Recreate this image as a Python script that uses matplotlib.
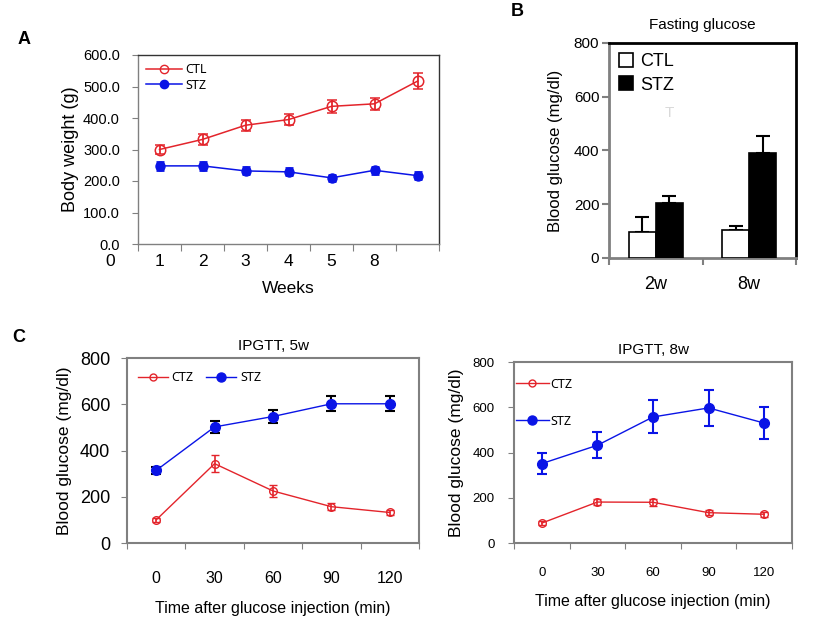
import matplotlib
matplotlib.use("Agg")
import matplotlib.pyplot as plt
from matplotlib.lines import Line2D
import numpy as np

plt.rcParams['font.family'] = ['Liberation Sans', 'DejaVu Sans']

RED = '#E3242B'
BLUE = '#0A14E6'
GRAY = '#808080'

# ---------------- Data ----------------
# Panel A: body weight
weeks_labels = ['1', '2', '3', '4', '5', '8', '']
bw_ctl = [300, 332, 377, 395, 437, 445, 517]
bw_ctl_err = [15, 17, 18, 18, 20, 20, 25]
bw_stz = [248, 248, 232, 229, 210, 234, 217]
bw_stz_err = [12, 12, 11, 11, 10, 11, 10]

# Panel B: fasting glucose
fg_groups = ['2w', '8w']
fg_ctl = [95, 106]
fg_ctl_err = [56, 14]
fg_stz = [206, 389]
fg_stz_err = [24, 65]

# Panel C: IPGTT
time_labels = ['0', '30', '60', '90', '120']
g5_ctz = [100, 343, 225, 157, 132]
g5_ctz_err = [10, 38, 25, 15, 12]
g5_stz = [314, 502, 547, 602, 602]
g5_stz_err = [15, 27, 28, 32, 32]

g8_ctz = [88, 181, 180, 134, 127]
g8_ctz_err = [8, 15, 15, 12, 12]
g8_stz = [351, 432, 557, 597, 530]
g8_stz_err = [47, 57, 73, 79, 69]

W, H = 819, 642
fig = plt.figure(figsize=(W / 100, H / 100), dpi=100)

def rect(l, r, t, b):
    return [l / W, 1 - b / H, (r - l) / W, (b - t) / H]

LEGFONT = {'family': ['Noto Sans', 'DejaVu Sans'], 'size': 9}

# ---------------- Panel A ----------------
axA = fig.add_axes(rect(138, 439, 55, 244))
n = len(bw_ctl)
xa = np.arange(n) + 0.5
axA.errorbar(xa, bw_ctl, yerr=bw_ctl_err, color=RED, lw=1.1, marker='o', ms=7.5,
             mfc='none', mec=RED, mew=1.1, capsize=3.5, elinewidth=1.3, capthick=1.3)
axA.errorbar(xa, bw_stz, yerr=bw_stz_err, color=BLUE, lw=1.1, marker='o', ms=6.5,
             mfc=BLUE, mec=BLUE, capsize=3, elinewidth=2, capthick=2)
axA.set_xlim(0, n)
axA.set_ylim(0, 600)
axA.set_yticks(np.arange(0, 601, 100))
axA.set_yticklabels([f'{v:.1f}' for v in np.arange(0, 601, 100)], fontsize=10.5)
axA.set_xticks(np.arange(0, n + 1))
axA.set_xticklabels([''] * (n + 1))
axA.set_xticks(xa, minor=True)
axA.set_xticklabels(weeks_labels, minor=True, fontsize=12.5)
axA.tick_params(axis='x', which='minor', length=0, pad=7)
axA.tick_params(axis='x', which='major', length=5, color=GRAY, direction='out')
axA.tick_params(axis='y', length=4, color=GRAY, direction='out', pad=9)
axA.text(-0.65, -0.095, '0', transform=axA.get_xaxis_transform(), ha='center', va='center',
         fontsize=12.5, clip_on=False)
for s in axA.spines.values():
    s.set_color('#333333')
    s.set_linewidth(1.0)
axA.spines['left'].set_color(GRAY)
axA.spines['bottom'].set_color(GRAY)
axA.set_ylabel('Body weight (g)', fontsize=13, labelpad=3)
axA.set_xlabel('Weeks', fontsize=12.5, labelpad=9)
hA = [Line2D([], [], color=RED, lw=1.1, marker='o', ms=6, mfc='none', mec=RED),
      Line2D([], [], color=BLUE, lw=1.1, marker='o', ms=6, mfc=BLUE, mec=BLUE)]
axA.legend(hA, ['CTL', 'STZ'], loc='upper left', frameon=False, handlelength=2.9,
           borderaxespad=0.25, labelspacing=0.2, handletextpad=0.25, prop=LEGFONT)

# ---------------- Panel B ----------------
axB = fig.add_axes(rect(609, 796, 43, 258))
xb = np.arange(len(fg_groups)) + 0.5
bw = 0.29
axB.bar(xb - bw / 2, fg_ctl, bw, color='white', edgecolor='black', lw=1.2, label='CTL', zorder=3)
axB.bar(xb + bw / 2, fg_stz, bw, color='black', edgecolor='black', lw=1.2, label='STZ', zorder=3)
axB.errorbar(xb - bw / 2, fg_ctl, yerr=[np.zeros(len(fg_ctl)), fg_ctl_err], fmt='none',
             ecolor='black', elinewidth=1.5, capsize=5, capthick=1.5, zorder=2)
axB.errorbar(xb + bw / 2, fg_stz, yerr=[np.zeros(len(fg_stz)), fg_stz_err], fmt='none',
             ecolor='black', elinewidth=1.5, capsize=5, capthick=1.5, zorder=2)
axB.set_xlim(0, len(fg_groups))
axB.set_ylim(0, 800)
axB.set_yticks(np.arange(0, 801, 200))
axB.tick_params(axis='y', labelsize=11, length=5, width=1.5, color=GRAY, pad=2)
axB.set_xticks(np.arange(0, len(fg_groups) + 1))
axB.set_xticklabels([''] * (len(fg_groups) + 1))
axB.set_xticks(xb, minor=True)
axB.set_xticklabels(fg_groups, minor=True, fontsize=13)
axB.tick_params(axis='x', which='minor', length=0, pad=13)
axB.tick_params(axis='x', which='major', length=5, width=1.5, color=GRAY)
axB.spines['left'].set_color(GRAY)
axB.spines['bottom'].set_color(GRAY)
for k in ['left', 'bottom']:
    axB.spines[k].set_linewidth(2)
for k in ['top', 'right']:
    axB.spines[k].set_color('black')
    axB.spines[k].set_linewidth(2)
axB.set_ylabel('Blood glucose (mg/dl)', fontsize=12, labelpad=8)
axB.set_title('Fasting glucose', fontsize=11, pad=10)
axB.text(0.64, 540, 'T', color='#d9d9d9', fontsize=11, ha='center', va='center')
axB.legend(loc='upper left', frameon=False, fontsize=13, handlelength=0.8, handleheight=0.8,
           borderaxespad=0.15, labelspacing=0.35, handletextpad=0.4)

# ---------------- Panel C ----------------
def ipgtt(ax, ctz, ctz_err, stz, stz_err, stz_ecolor, title, ytick_fs, xtick_fs, xpad,
          ypad, legend_kw):
    m = len(ctz)
    xc = np.arange(m) + 0.5
    ax.errorbar(xc, ctz, yerr=ctz_err, color=RED, lw=1.0, marker='o', ms=5.5, mfc='none',
                mec=RED, mew=1.0, capsize=3, elinewidth=1.2, capthick=1.2)
    ax.errorbar(xc, stz, yerr=stz_err, color=BLUE, lw=1.0, marker='o', ms=7, mfc=BLUE,
                mec=BLUE, ecolor=stz_ecolor, capsize=3.5, elinewidth=1.5, capthick=1.5)
    ax.set_xlim(0, m)
    ax.set_ylim(0, 800)
    ax.set_yticks(np.arange(0, 801, 200))
    ax.tick_params(axis='y', labelsize=ytick_fs, length=4, color=GRAY, pad=ypad)
    ax.set_xticks(np.arange(0, m + 1))
    ax.set_xticklabels([''] * (m + 1))
    ax.set_xticks(xc, minor=True)
    ax.set_xticklabels(time_labels, minor=True, fontsize=xtick_fs)
    ax.tick_params(axis='x', which='minor', length=0, pad=xpad)
    ax.tick_params(axis='x', which='major', length=4, color=GRAY)
    for s in ax.spines.values():
        s.set_color(GRAY)
        s.set_linewidth(1.5)
    ax.set_title(title, fontsize=11, pad=6)
    h = [Line2D([], [], color=RED, lw=1.0, marker='o', ms=5, mfc='none', mec=RED),
         Line2D([], [], color=BLUE, lw=1.0, marker='o', ms=6.5, mfc=BLUE, mec=BLUE)]
    ax.legend(h, ['CTZ', 'STZ'], frameon=False, prop=LEGFONT, **legend_kw)

axC1 = fig.add_axes(rect(127, 419, 358, 543))
ipgtt(axC1, g5_ctz, g5_ctz_err, g5_stz, g5_stz_err, 'black', 'IPGTT, 5w', 13, 11.5, 20, 8,
      dict(loc='upper left', bbox_to_anchor=(0.02, 0.955), ncol=2, handlelength=2.4,
           columnspacing=1.0, handletextpad=0.3, borderaxespad=0))
axC1.set_ylabel('Blood glucose (mg/dl)', fontsize=12.5, labelpad=6)
axC1.set_xlabel('Time after glucose injection (min)', fontsize=11.5, labelpad=11)

axC2 = fig.add_axes(rect(514, 792, 362, 543))
ipgtt(axC2, g8_ctz, g8_ctz_err, g8_stz, g8_stz_err, BLUE, 'IPGTT, 8w', 9.5, 9.5, 17, 10,
      dict(loc='upper left', bbox_to_anchor=(-0.01, 0.94), ncol=1, handlelength=2.6,
           labelspacing=1.9, handletextpad=0.1, borderaxespad=0))
axC2.set_ylabel('Blood glucose (mg/dl)', fontsize=12.5, labelpad=6)
axC2.set_xlabel('Time after glucose injection (min)', fontsize=11.5, labelpad=11)

# Panel letters
fig.text(18 / W, 1 - 40 / H, 'A', fontsize=13, fontweight='bold', va='center', ha='left')
fig.text(511 / W, 1 - 12 / H, 'B', fontsize=13, fontweight='bold', va='center', ha='left')
fig.text(12 / W, 1 - 337 / H, 'C', fontsize=13, fontweight='bold', va='center', ha='left')

fig.savefig('out.png', dpi=100)
